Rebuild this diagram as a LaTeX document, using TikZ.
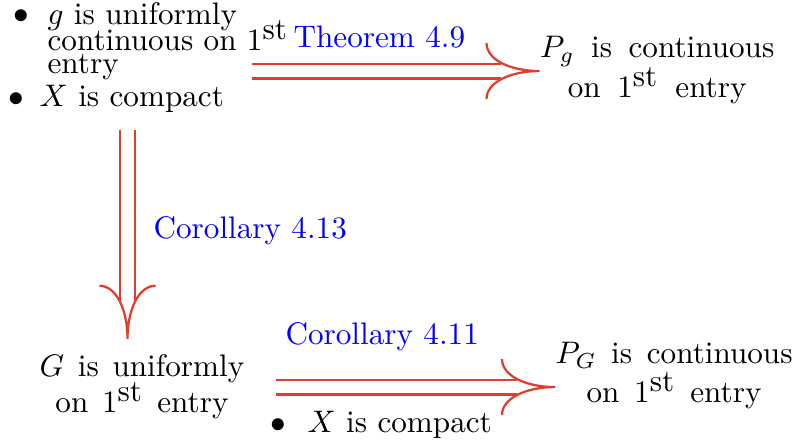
\documentclass[tikz,border=0pt]{standalone}
\usetikzlibrary{arrows.meta}
\definecolor{arrowred}{RGB}{222,62,42}
% big curved head for the double arrows
\pgfdeclarearrow{
    name = BigImplies,
    parameters = {\the\pgfarrowlength,\the\pgfarrowwidth},
    setup code = {
        \pgfarrowssettipend{0pt}
        \pgfarrowssetlineend{-.72\pgfarrowlength}
        \pgfarrowssetbackend{-\pgfarrowlength}
        \pgfarrowssavethe\pgfarrowlength
        \pgfarrowssavethe\pgfarrowwidth
    },
    drawing code = {
        \pgfsetlinewidth{0.72pt}
        \pgfsetdash{}{0pt}
        \pgfpathmoveto{\pgfqpoint{-\pgfarrowlength}{.5\pgfarrowwidth}}
        \pgfpathcurveto{\pgfqpoint{-\pgfarrowlength}{.2\pgfarrowwidth}}
            {\pgfqpoint{-.55\pgfarrowlength}{0pt}}{\pgfpointorigin}
        \pgfpathcurveto{\pgfqpoint{-.55\pgfarrowlength}{0pt}}
            {\pgfqpoint{-\pgfarrowlength}{-.2\pgfarrowwidth}}
            {\pgfqpoint{-\pgfarrowlength}{-.5\pgfarrowwidth}}
        \pgfusepathqstroke
    },
    defaults = {length=17pt, width=18pt}
}
\tikzset{
    imp/.style={draw=arrowred, double, double distance=4pt, line width=0.72pt,
        -{BigImplies}},
    lbl/.style={blue, inner sep=0pt, anchor=base west},
    txt/.style={inner sep=0pt, align=center},
    bul/.style={inner sep=0pt, anchor=base}
}
\newcommand{\first}{1$^{\mbox{st}}$}
\begin{document}
\begin{tikzpicture}
    \useasboundingbox (0,0) rectangle (8.93,4.995);

    % 1. Hypotheses at top left
    \node[bul] (b1) at (0.245,4.732) {$\bullet$};
    \node[inner sep=0pt, align=left, anchor=north west] (hyp) at (0.53,4.977)
        {$g$ is uniformly\\[-3.5pt] continuous on \first\\[-4.8pt] entry};
    \node[bul] (b2) at (0.188,3.792) {$\bullet$};
    \node[inner sep=0pt, anchor=base west] (cpt1) at (0.44,3.792) {$X$ is compact};

    % 2. Conclusions
    \node[txt, anchor=north, font={\spaceskip=5.3pt\relax}] (Pg) at (7.41,4.592)
        {$P_g$ is continuous\\[-0.8pt] on \first\ entry};
    \node[txt, anchor=north, font={\spaceskip=4.4pt\relax}] (G) at (1.601,1.0)
        {$G$ is uniformly\\[-0.5pt] on \first\ entry};
    \node[txt, anchor=north, font={\spaceskip=4.7pt\relax}] (PG) at (7.60,1.142)
        {$P_G$ is continuous\\[0.5pt] on \first\ entry};

    % 3. Implications
    \coordinate (s1) at (2.841,4.194);
    \coordinate (s2) at (1.4376,3.529);
    \draw[imp] (s1) -- (s1 -| Pg.west);
    \draw[imp, shorten >=5pt] (s2) -- (s2 |- G.north);
    \draw[imp, shorten <=10pt] (G.east) -- (G.east -| PG.west);

    % 4. Labels
    \node[lbl] (thm) at (3.304,4.454) {Theorem 4.9};
    \node[lbl] (cor13) at (1.725,2.311) {Corollary 4.13};
    \node[lbl] (cor11) at (3.213,1.116) {Corollary 4.11};

    \node[bul] (b3) at (3.134,0.113) {$\bullet$};
    \node[inner sep=0pt, anchor=base west] (cpt2) at (3.461,0.113) {$X$ is compact};
\end{tikzpicture}
\end{document}
